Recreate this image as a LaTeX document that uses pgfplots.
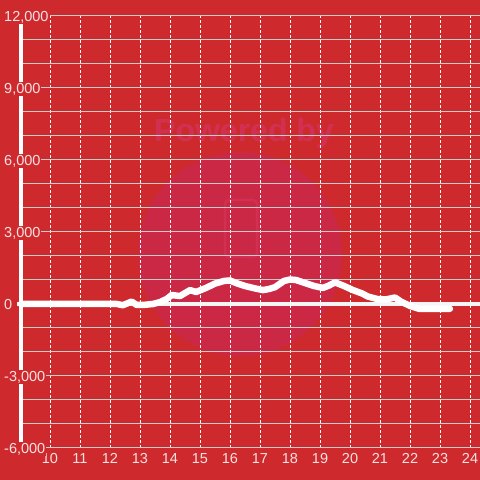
\documentclass[border=0pt]{standalone}
\usepackage{pgfplots}
\pgfplotsset{compat=1.18}
\usepackage{fontspec}
\setmainfont{Liberation Sans}
\definecolor{bg}{RGB}{206,42,46}
\definecolor{circ}{RGB}{203,40,70}
\definecolor{wm}{RGB}{210,48,82}
\definecolor{gridc}{RGB}{205,205,205}
\definecolor{lab}{RGB}{246,226,226}
\begin{document}
\begin{tikzpicture}
\fill[bg] (0pt,0pt) rectangle (480pt,480pt);
\fill[circ] (240pt,226pt) circle (102pt);
\node[wm, font=\fontsize{32}{34}\selectfont\bfseries, anchor=center] at (244pt,347pt) {Powered by};
\draw[wm, line width=2.5pt, rounded corners=4pt] (225pt,223pt) rectangle (257pt,280pt);
\begin{axis}[
  at={(21pt,32pt)}, anchor=south west,
  scale only axis, width=459pt, height=432pt,
  xmin=9.0333, xmax=24.3333, ymin=-6000, ymax=12000,
  xtick={10,...,24}, ytick={-6000,-3000,0,3000,6000,9000,12000},
  scaled y ticks=false, scaled x ticks=false,
  minor y tick num=2,
  xmajorgrids, ymajorgrids, yminorgrids,
  major x grid style={white, line width=1pt, dash pattern=on 3pt off 2pt},
  major y grid style={gridc, line width=1pt},
  minor y grid style={gridc, line width=1pt},
  axis y line*=left, axis x line*=bottom,
  y axis line style={-, white, line width=3.5pt},
  x axis line style={draw=none},
  major tick length=0pt, minor tick length=0pt,
  /pgf/number format/assume math mode=true,
  /pgf/number format/1000 sep={,},
  tick label style={lab, font=\fontsize{14.5}{16}\selectfont},
  yticklabel style={anchor=west, xshift=-18pt, yshift=-1pt, fill=bg, inner sep=1pt},
  xticklabel style={yshift=-2pt},
  clip=false,
]
\draw[white!92!gray, line width=3.5pt] (axis cs:8.9,0) -- (axis cs:24.3333,0);
\addplot[white, line width=6.5pt, line join=round, line cap=round] coordinates {
(9.0333,0) (12.0,0) (12.23,0) (12.43,-50) (12.72,100) (12.89,-40) (13.1,-40)
(13.43,0) (13.67,80) (13.89,210) (14.06,375) (14.33,330) (14.67,580) (14.87,500)
(15.2,670) (15.5,850) (15.8,960) (16.0,980) (16.2,875) (16.5,750) (16.83,650)
(17.1,580) (17.3,625) (17.5,700) (17.8,960) (18.0,1020) (18.2,1000) (18.5,875)
(18.8,750) (19.1,670) (19.3,770) (19.5,900) (19.8,750) (20.1,580) (20.4,440)
(20.6,310) (20.9,210) (21.2,190) (21.5,270) (21.7,100) (22.0,-80) (22.3,-200)
(22.6,-200) (23.33,-200)
};
\end{axis}
\pgfresetboundingbox
\useasboundingbox (0pt,0pt) rectangle (480pt,480pt);
\end{tikzpicture}
\end{document}
